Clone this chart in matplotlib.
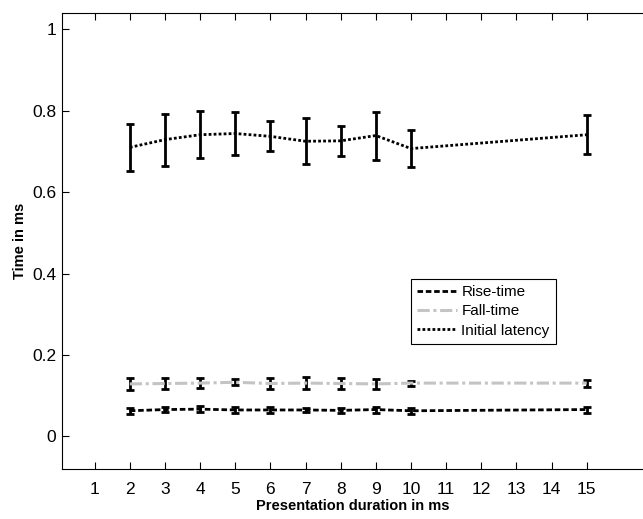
import numpy as np
import matplotlib.pyplot as plt
from matplotlib.lines import Line2D

plt.rcParams['font.family'] = ['Liberation Sans', 'DejaVu Sans']

# Daten
dauer = [2, 3, 4, 5, 6, 7, 8, 9, 10, 15]
xticklabels = [str(i) for i in range(1, 16)]

rise_mean = [0.063, 0.066, 0.067, 0.065, 0.065, 0.065, 0.064, 0.066, 0.063, 0.066]
rise_err = [0.007, 0.0065, 0.008, 0.007, 0.0065, 0.006, 0.007, 0.0075, 0.008, 0.0075]

fall_mean = [0.129, 0.130, 0.131, 0.133, 0.130, 0.131, 0.130, 0.129, 0.131, 0.131]
fall_err = [0.015, 0.013, 0.012, 0.0075, 0.013, 0.014, 0.013, 0.012, 0.006, 0.0085]

lat_mean = [0.710, 0.729, 0.741, 0.744, 0.737, 0.725, 0.726, 0.739, 0.707, 0.741]
lat_err = [0.058, 0.064, 0.058, 0.053, 0.037, 0.056, 0.036, 0.059, 0.046, 0.048]

fig = plt.figure(figsize=(6.43, 5.19), dpi=100)
ax = fig.add_axes([62 / 643, 1 - 469 / 519, (643 - 62) / 643, (469 - 13) / 519])

eb = dict(ecolor='black', elinewidth=2, capsize=3.2, capthick=2)

stil_rise = dict(color='black', lw=2, linestyle=(0, (2, 1)))
stil_fall = dict(color='#c4c4c4', lw=2.2, linestyle=(0, (4, 1.2, 1, 1.2)))
stil_lat = dict(color='black', lw=2, linestyle=(0, (1, 0.8)))

ax.errorbar(dauer, rise_mean, yerr=rise_err, zorder=3, **stil_rise, **eb)
ax.errorbar(dauer, fall_mean, yerr=fall_err, zorder=2, **stil_fall, **eb)
ax.errorbar(dauer, lat_mean, yerr=lat_err, zorder=3, **stil_lat, **eb)

ax.set_xlim(0.07, 16.6)
ax.set_ylim(-0.08, 1.04)
ax.set_xticks(range(1, 16))
ax.set_xticklabels(xticklabels)
ax.set_yticks([0, 0.2, 0.4, 0.6, 0.8, 1])
ax.set_yticklabels(['0', '0.2', '0.4', '0.6', '0.8', '1'])
ax.tick_params(direction='in', length=5, labelsize=12.5, top=True, right=False)
ax.tick_params(axis='x', pad=9)
ax.tick_params(axis='y', pad=4)
ax.spines['right'].set_visible(False)

ax.set_xlabel('Presentation duration in ms', fontsize=10.5, fontweight='bold', labelpad=2)
ax.set_ylabel('Time in ms', fontsize=10.5, fontweight='bold', labelpad=4)

handles = [Line2D([], [], **stil_rise), Line2D([], [], **stil_fall), Line2D([], [], **stil_lat)]
leg = ax.legend(handles, ['Rise-time', 'Fall-time', 'Initial latency'],
                loc='upper left', bbox_to_anchor=(411 / 643, 1 - 279 / 519),
                bbox_transform=fig.transFigure, borderaxespad=0, fontsize=11,
                fancybox=False, edgecolor='black', framealpha=1, handlelength=2.6,
                borderpad=0.4, labelspacing=0.35, handletextpad=0.3)
leg.get_frame().set_linewidth(0.8)

fig.savefig('out.png', dpi=100)
